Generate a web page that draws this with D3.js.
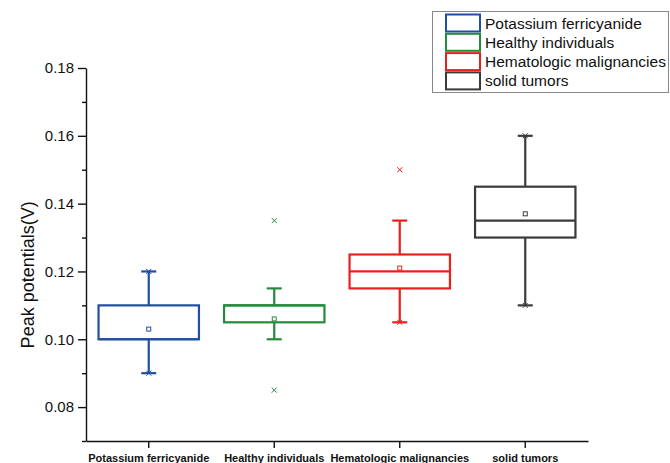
<!DOCTYPE html>
<html>
<head>
<meta charset="utf-8">
<script src="https://cdn.jsdelivr.net/npm/d3@7"></script>
<style>
  body { margin: 0; background: #fff; }
  svg { display: block; font-family: "Liberation Sans", Arial, sans-serif; }
</style>
</head>
<body>
<div id="chart"></div>
<script>
// ─── Box plot: peak potentials per group ───

const categories = ['Potassium ferricyanide', 'Healthy individuals', 'Hematologic malignancies', 'solid tumors'];
const colors = ['#1f4ea3', '#238b3c', '#e8201c', '#3a3a3a'];
const q1 = [0.100, 0.105, 0.115, 0.130];
const medians = [0.100, 0.110, 0.120, 0.135];
const q3 = [0.110, 0.110, 0.125, 0.145];
const whiskerLow = [0.090, 0.100, 0.105, 0.110];
const whiskerHigh = [0.120, 0.115, 0.135, 0.160];
const means = [0.103, 0.106, 0.121, 0.137];
const minVals = [0.090, 0.085, 0.105, 0.110];
const maxVals = [0.120, 0.135, 0.150, 0.160];
const yTicks = [0.08, 0.10, 0.12, 0.14, 0.16, 0.18];
const yMinorTicks = [0.07, 0.09, 0.11, 0.13, 0.15, 0.17];

(function () {
  const width = 670, height = 463;
  const plotLeft = 86, plotRight = 588, plotTop = 68, plotBottom = 441;

  const svg = d3.select('#chart').append('svg')
    .attr('width', width)
    .attr('height', height);

  const x = d3.scaleBand().domain(categories).range([plotLeft, plotRight]).padding(0);
  const y = d3.scaleLinear().domain([0.07, 0.18]).range([plotBottom, plotTop]);

  // axes
  const yAxis = svg.append('g')
    .attr('transform', `translate(${plotLeft},0)`)
    .call(d3.axisLeft(y).tickValues(yTicks).tickFormat(d3.format('.2f')).tickSize(8).tickSizeOuter(0).tickPadding(4));
  yAxis.selectAll('text').attr('font-size', 15).attr('fill', '#111').attr('font-family', '"Liberation Sans", Arial, sans-serif');

  svg.append('g')
    .attr('transform', `translate(${plotLeft},0)`)
    .call(d3.axisLeft(y).tickValues(yMinorTicks).tickFormat('').tickSize(4).tickSizeOuter(0))
    .select('.domain').remove();

  const xAxis = svg.append('g')
    .attr('transform', `translate(0,${plotBottom})`)
    .call(d3.axisBottom(x).tickSize(7).tickSizeOuter(0).tickPadding(6));
  xAxis.selectAll('text').attr('font-size', 11).attr('font-weight', 'bold').attr('fill', '#111')
    .attr('font-family', '"Liberation Sans", Arial, sans-serif');

  svg.selectAll('.domain, .tick line').attr('stroke', '#111').attr('stroke-width', 1.4);

  svg.append('text')
    .attr('transform', `translate(34,${y(0.119)}) rotate(-90)`)
    .attr('text-anchor', 'middle')
    .attr('font-size', 18)
    .attr('fill', '#111')
    .text('Peak potentials(V)');

  // boxes
  const boxW = x.bandwidth() * 0.8;
  const capW = 15;

  categories.forEach((c, i) => {
    const cx = x(c) + x.bandwidth() / 2;
    const g = svg.append('g').attr('stroke', colors[i]).attr('fill', 'none');

    // whiskers
    g.append('line').attr('x1', cx).attr('x2', cx).attr('y1', y(q3[i])).attr('y2', y(whiskerHigh[i])).attr('stroke-width', 2.2);
    g.append('line').attr('x1', cx).attr('x2', cx).attr('y1', y(q1[i])).attr('y2', y(whiskerLow[i])).attr('stroke-width', 2.2);
    [whiskerLow[i], whiskerHigh[i]].forEach(v => {
      g.append('line').attr('x1', cx - capW / 2).attr('x2', cx + capW / 2)
        .attr('y1', y(v)).attr('y2', y(v)).attr('stroke-width', 2.2);
    });

    // box + median
    g.append('rect')
      .attr('x', cx - boxW / 2).attr('y', y(q3[i]))
      .attr('width', boxW).attr('height', y(q1[i]) - y(q3[i]))
      .attr('fill', '#fff').attr('stroke-width', 2.2);
    g.append('line').attr('x1', cx - boxW / 2).attr('x2', cx + boxW / 2)
      .attr('y1', y(medians[i])).attr('y2', y(medians[i])).attr('stroke-width', 2.2);

    // mean marker
    g.append('rect')
      .attr('x', cx - 2).attr('y', y(means[i]) - 2)
      .attr('width', 4).attr('height', 4).attr('stroke-width', 1);

    // min / max markers
    [minVals[i], maxVals[i]].forEach(v => {
      const yy = y(v);
      g.append('path')
        .attr('d', `M${cx - 2.5},${yy - 2.5}L${cx + 2.5},${yy + 2.5}M${cx - 2.5},${yy + 2.5}L${cx + 2.5},${yy - 2.5}`)
        .attr('stroke-width', 1);
    });
  });

  // legend
  const legend = svg.append('g');
  legend.append('rect')
    .attr('x', 432.5).attr('y', 11.5).attr('width', 236).attr('height', 81)
    .attr('fill', '#fff').attr('stroke', '#888').attr('stroke-width', 1);

  categories.forEach((c, i) => {
    const ly = 14.5 + i * 19.3;
    legend.append('rect')
      .attr('x', 446).attr('y', ly).attr('width', 34).attr('height', 17)
      .attr('fill', '#fff').attr('stroke', colors[i]).attr('stroke-width', 2);
    legend.append('text')
      .attr('x', 485).attr('y', ly + 14)
      .attr('font-size', 15.5).attr('fill', '#111')
      .text(c);
  });
})();
</script>
</body>
</html>
